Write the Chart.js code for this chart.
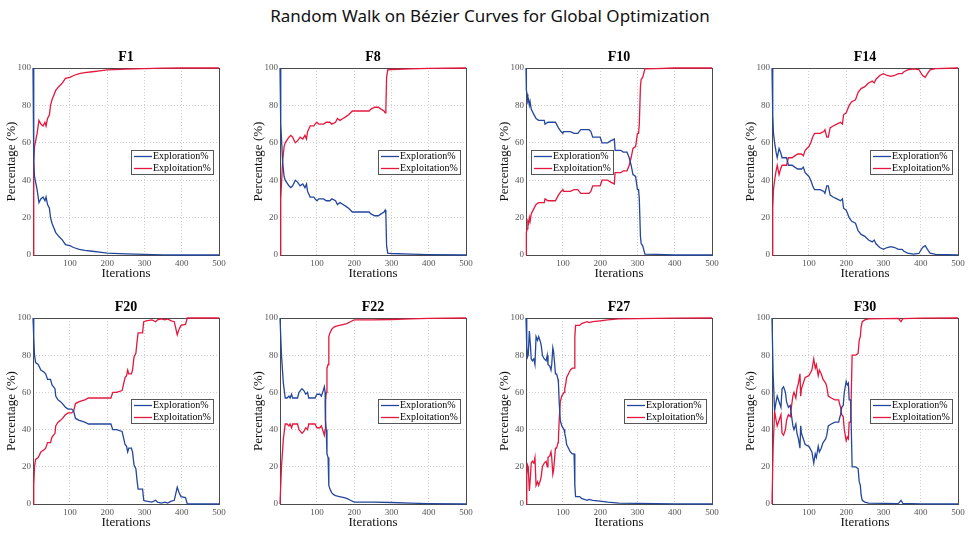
<!DOCTYPE html>
<html>
<head>
<meta charset="utf-8">
<script src="https://cdn.jsdelivr.net/npm/chart.js@4.4.1/dist/chart.umd.min.js"></script>
<style>
  body { margin: 0; width: 970px; height: 533px; background: #fff; position: relative; overflow: hidden; }
  #title { position: absolute; top: 4px; left: 0; width: 980px; text-align: center; font-family: "Noto Sans", sans-serif; font-size: 17px; color: #111; }
  canvas { position: absolute; }
</style>
</head>
<body>
<div id="title">Random Walk on Bézier Curves for Global Optimization</div>
<canvas id="c0" width="246" height="241" style="left:0px;top:45px"></canvas>
<canvas id="c1" width="246" height="241" style="left:247px;top:45px"></canvas>
<canvas id="c2" width="246" height="241" style="left:493px;top:45px"></canvas>
<canvas id="c3" width="246" height="241" style="left:739px;top:45px"></canvas>
<canvas id="c4" width="246" height="240" style="left:0px;top:295px"></canvas>
<canvas id="c5" width="246" height="240" style="left:247px;top:295px"></canvas>
<canvas id="c6" width="246" height="240" style="left:493px;top:295px"></canvas>
<canvas id="c7" width="246" height="240" style="left:739px;top:295px"></canvas>
<script>
const xTicks = [100, 200, 300, 400, 500];
const yTicks = [0, 20, 40, 60, 80, 100];

// F1
const f1Iter = [1, 3, 5, 10, 12, 17, 22, 28, 33, 36, 40, 45, 48, 52, 56, 62, 70, 80, 88, 100, 110, 125, 140, 160, 180, 200, 250, 300, 350, 400, 500];
const f1Explore = [100, 50, 42, 37, 35, 28, 30, 31, 29, 31, 27, 25, 20, 17, 15, 12, 10, 8, 5.5, 5, 4, 3, 2.5, 2, 1.5, 1, 0.6, 0.3, 0.1, 0, 0];
const f1Exploit = [0, 50, 58, 63, 65, 72, 70, 69, 71, 69, 73, 75, 80, 83, 85, 88, 90, 92, 94.5, 95, 96, 97, 97.5, 98, 98.5, 99, 99.4, 99.7, 99.9, 100, 100];

// F8
const f8Iter = [1, 3, 8, 12, 15, 25, 30, 35, 42, 48, 55, 62, 68, 72, 75, 82, 92, 95, 100, 105, 118, 125, 135, 140, 150, 155, 162, 170, 178, 185, 195, 240, 245, 255, 265, 272, 280, 283, 285, 287, 290, 300, 350, 400, 500];
const f8Explore = [100, 70, 50, 42, 40, 37, 36, 37, 40, 39, 37, 38, 36, 38, 34, 31, 31, 30, 29, 30, 30, 29, 29, 30, 29, 27, 28, 27, 26, 25, 23, 23, 22, 21, 21, 22, 23, 24, 22, 5, 1, 0.8, 0.5, 0.2, 0];
const f8Exploit = [0, 30, 50, 58, 60, 63, 64, 63, 60, 61, 63, 62, 64, 62, 66, 69, 69, 70, 71, 70, 70, 71, 71, 70, 71, 73, 72, 73, 74, 75, 77, 77, 78, 79, 79, 78, 77, 76, 78, 95, 99, 99.2, 99.5, 99.8, 100];

// F10
const f10Iter = [1, 2, 4, 6, 8, 10, 12, 15, 20, 28, 35, 50, 52, 60, 80, 88, 95, 100, 102, 120, 130, 140, 148, 170, 175, 180, 200, 205, 220, 228, 238, 240, 255, 262, 272, 278, 283, 288, 295, 300, 303, 305, 308, 310, 314, 320, 350, 400, 500];
const f10Explore = [100, 88, 86, 82, 83, 80, 82, 78, 76, 73, 72, 72, 70, 71, 71, 68, 66, 65, 66, 66, 65, 65, 67, 67, 66, 63, 63, 60, 60, 61, 62, 56, 56, 55, 55, 52, 48, 43, 42, 35, 35, 30, 10, 6, 5, 0.5, 0.3, 0, 0];
const f10Exploit = [0, 12, 14, 18, 17, 20, 18, 22, 24, 27, 28, 28, 30, 29, 29, 32, 34, 35, 34, 34, 35, 35, 33, 33, 34, 37, 37, 40, 40, 39, 38, 44, 44, 45, 45, 48, 52, 57, 58, 65, 65, 70, 90, 94, 95, 99.5, 99.7, 100, 100];

// F14
const f14Iter = [1, 3, 5, 8, 12, 15, 20, 24, 28, 40, 45, 55, 62, 70, 80, 85, 90, 100, 105, 110, 115, 130, 140, 143, 148, 152, 157, 165, 175, 185, 190, 193, 200, 208, 215, 225, 232, 240, 250, 260, 270, 275, 280, 290, 300, 310, 320, 330, 340, 350, 355, 365, 380, 395, 405, 412, 418, 425, 440, 500];
const f14Explore = [100, 75, 65, 60, 55, 52, 57, 55, 52, 52, 48, 48, 47, 46, 46, 47, 44, 42, 40, 37, 35, 35, 34, 33, 37, 37, 32, 31, 30, 29, 30, 25, 24, 20, 18, 17, 13, 11, 10, 8, 7, 8, 6, 4, 3, 4, 4.5, 4, 3, 3, 2, 1, 0.5, 0.8, 4, 5, 3, 1, 0.3, 0];
const f14Exploit = [0, 25, 35, 40, 45, 48, 43, 46, 48, 48, 52, 52, 53, 54, 54, 53, 56, 58, 60, 63, 65, 65, 66, 67, 63, 63, 68, 69, 70, 71, 70, 75, 76, 80, 82, 83, 87, 89, 90, 92, 93, 92, 94, 96, 97, 96, 95.5, 96, 97, 97, 98, 99, 99.5, 99.2, 96, 95, 97, 99, 99.7, 100];

// F20
const f20Iter = [1, 3, 5, 8, 15, 22, 30, 35, 40, 48, 52, 60, 62, 68, 75, 80, 88, 95, 105, 110, 115, 125, 140, 150, 200, 210, 215, 225, 240, 248, 252, 255, 258, 265, 268, 272, 277, 280, 283, 295, 298, 305, 320, 330, 335, 345, 355, 362, 372, 380, 388, 393, 398, 410, 415, 500];
const f20Explore = [100, 90, 80, 76, 75, 72, 71, 70, 67, 67, 64, 62, 58, 56, 55, 54, 52, 51, 51, 50, 46, 45, 44, 43, 43, 43, 40, 40, 39, 32, 31, 28, 30, 30, 28, 21, 19, 13, 8, 8, 2, 1.5, 1, 2, 1, 0.5, 1, 0.5, 1.5, 2, 9, 6, 4, 3.5, 0, 0];
const f20Exploit = [0, 10, 20, 24, 25, 28, 29, 30, 33, 33, 36, 38, 42, 44, 45, 46, 48, 49, 49, 50, 54, 55, 56, 57, 57, 57, 60, 60, 61, 68, 69, 72, 70, 70, 72, 79, 81, 87, 92, 92, 98, 98.5, 99, 98, 99, 99.5, 99, 99.5, 98.5, 98, 91, 94, 96, 96.5, 100, 100];

// F22
const f22Iter = [1, 5, 10, 15, 20, 25, 28, 32, 35, 48, 52, 60, 65, 70, 75, 78, 95, 100, 108, 112, 117, 120, 122, 123, 125, 127, 130, 132, 135, 140, 145, 150, 160, 170, 180, 190, 200, 250, 300, 350, 400, 500];
const f22Explore = [100, 80, 65, 57, 57, 58, 57, 59, 57, 57, 60, 62, 61, 59, 60, 57, 57, 59, 59, 58, 61, 63, 60, 45, 40, 27, 25, 10, 8, 6, 5, 4.5, 4, 3.5, 3, 2, 1, 1, 0.8, 0.5, 0.2, 0];
const f22Exploit = [0, 20, 35, 43, 43, 42, 43, 41, 43, 43, 40, 38, 39, 41, 40, 43, 43, 41, 41, 42, 39, 37, 40, 55, 60, 73, 75, 90, 92, 94, 95, 95.5, 96, 96.5, 97, 98, 99, 99, 99.2, 99.5, 99.8, 100];

// F27
const f27Iter = [1, 3, 5, 7, 10, 13, 15, 18, 22, 25, 28, 32, 35, 40, 42, 45, 50, 55, 58, 60, 65, 68, 70, 73, 75, 78, 80, 83, 87, 88, 90, 93, 97, 103, 105, 108, 110, 115, 120, 125, 130, 132, 134, 145, 150, 165, 170, 180, 200, 220, 250, 300, 400, 500];
const f27Explore = [100, 85, 79, 80, 93, 85, 78, 77, 78, 75, 90, 88, 90, 87, 85, 80, 78, 77, 80, 75, 74, 72, 75, 84, 82, 75, 70, 70, 67, 65, 55, 45, 42, 40, 38, 35, 32, 30, 28, 27, 27, 10, 4, 4, 3, 2, 2.5, 2, 1.5, 1, 0.5, 0.3, 0.1, 0];
const f27Exploit = [0, 15, 21, 20, 7, 15, 22, 23, 22, 25, 10, 12, 10, 13, 15, 20, 22, 23, 20, 25, 26, 28, 25, 16, 18, 25, 30, 30, 33, 35, 45, 55, 58, 60, 62, 65, 68, 70, 72, 73, 73, 90, 96, 96, 97, 98, 97.5, 98, 98.5, 99, 99.5, 99.7, 99.9, 100];

// F30
const f30Iter = [1, 4, 8, 12, 15, 20, 25, 28, 32, 37, 40, 45, 50, 53, 57, 60, 65, 68, 72, 76, 78, 80, 85, 90, 100, 108, 113, 117, 120, 125, 128, 133, 138, 145, 148, 152, 160, 170, 180, 182, 185, 188, 192, 195, 200, 203, 206, 208, 212, 216, 225, 232, 235, 238, 240, 243, 250, 260, 300, 340, 347, 352, 400, 500];
const f30Explore = [100, 70, 50, 55, 58, 55, 52, 62, 63, 60, 55, 52, 53, 48, 42, 40, 43, 38, 35, 30, 42, 38, 35, 32, 31, 28, 22, 27, 25, 31, 28, 30, 33, 35, 37, 42, 43, 44, 44, 46, 48, 52, 53, 60, 66, 64, 65, 56, 56, 20, 20, 19, 12, 10, 5, 2, 1, 0.5, 0.3, 0.2, 2, 0.3, 0.1, 0];
const f30Exploit = [0, 30, 50, 45, 42, 45, 48, 38, 37, 40, 45, 48, 47, 52, 58, 60, 57, 62, 65, 70, 58, 62, 65, 68, 69, 72, 78, 73, 75, 69, 72, 70, 67, 65, 63, 58, 57, 56, 56, 54, 52, 48, 47, 40, 34, 36, 35, 44, 44, 80, 80, 81, 88, 90, 95, 98, 99, 99.5, 99.7, 99.8, 98, 99.7, 99.9, 100];

const panels = [
  { title: 'F1', iter: f1Iter, explore: f1Explore, exploit: f1Exploit, legend: 'right' },
  { title: 'F8', iter: f8Iter, explore: f8Explore, exploit: f8Exploit, legend: 'right' },
  { title: 'F10', iter: f10Iter, explore: f10Explore, exploit: f10Exploit, legend: 'left' },
  { title: 'F14', iter: f14Iter, explore: f14Explore, exploit: f14Exploit, legend: 'right' },
  { title: 'F20', iter: f20Iter, explore: f20Explore, exploit: f20Exploit, legend: 'right' },
  { title: 'F22', iter: f22Iter, explore: f22Explore, exploit: f22Exploit, legend: 'right' },
  { title: 'F27', iter: f27Iter, explore: f27Explore, exploit: f27Exploit, legend: 'right' },
  { title: 'F30', iter: f30Iter, explore: f30Explore, exploit: f30Exploit, legend: 'right' }
];

const blue = '#23479c';
const red = '#e5173d';
const serif = '"Liberation Serif", "Times New Roman", serif';

// matlab-ish axes box under the lines, legend on top of them
const frameLegend = {
  id: 'frameLegend',
  beforeDatasetsDraw(chart) {
    const { ctx, chartArea: a } = chart;
    ctx.save();
    ctx.strokeStyle = '#4a4a4a';
    ctx.lineWidth = 1;
    ctx.strokeRect(Math.round(a.left) + 0.5, Math.round(a.top) + 0.5, Math.round(a.right - a.left), Math.round(a.bottom - a.top));
    ctx.restore();
  },
  afterDraw(chart, args, opts) {
    const { ctx, chartArea: a } = chart;
    ctx.save();
    ctx.font = '10px ' + serif;
    const sets = chart.data.datasets;
    const textW = Math.max(...sets.map(d => ctx.measureText(d.label).width));
    const w = Math.round(22 + textW + 2);
    const h = 24;
    const x = opts.side === 'left' ? Math.round(a.left + 5) : Math.round(a.right - 6 - w);
    const y = Math.round((a.top + a.bottom) / 2 - h / 2);
    ctx.fillStyle = '#fff';
    ctx.fillRect(x, y, w, h);
    ctx.strokeStyle = '#555';
    ctx.lineWidth = 1;
    ctx.strokeRect(x + 0.5, y + 0.5, w, h);
    sets.forEach((d, i) => {
      const ly = y + 6.5 + i * 12;
      ctx.strokeStyle = d.borderColor;
      ctx.lineWidth = 1.3;
      ctx.beginPath();
      ctx.moveTo(x + 3, ly);
      ctx.lineTo(x + 21, ly);
      ctx.stroke();
      ctx.fillStyle = '#000';
      ctx.textBaseline = 'middle';
      ctx.textAlign = 'left';
      ctx.fillText(d.label, x + 22, ly);
    });
    ctx.restore();
  }
};

panels.forEach((p, i) => {
  const ctx = document.getElementById('c' + i).getContext('2d');
  new Chart(ctx, {
    type: 'line',
    data: {
      datasets: [
        {
          label: 'Exploration%',
          data: p.iter.map((v, k) => ({ x: v, y: p.explore[k] })),
          borderColor: blue,
          borderWidth: 1.3,
          pointRadius: 0,
          tension: 0,
          clip: 2
        },
        {
          label: 'Exploitation%',
          data: p.iter.map((v, k) => ({ x: v, y: p.exploit[k] })),
          borderColor: red,
          borderWidth: 1.3,
          pointRadius: 0,
          tension: 0,
          clip: 2
        }
      ]
    },
    options: {
      responsive: false,
      animation: false,
      events: [],
      layout: { padding: { left: 0, right: 27, top: 0, bottom: 0 } },
      plugins: {
        legend: { display: false },
        tooltip: { enabled: false },
        title: {
          display: true,
          text: p.title,
          fullSize: false,
          color: '#000',
          font: { family: serif, size: 14, weight: 'bold', lineHeight: 1 },
          padding: { top: 5, bottom: 4 }
        },
        frameLegend: { side: p.legend }
      },
      scales: {
        x: {
          type: 'linear',
          min: 1,
          max: 500,
          afterBuildTicks: s => { s.ticks = xTicks.map(v => ({ value: v })); },
          afterFit: s => { s.height = 31; },
          grid: { color: '#cfcfcf', lineWidth: 1, drawTicks: false },
          border: { display: false, dash: [1, 2] },
          ticks: { color: '#555', padding: 3, font: { family: serif, size: 9 }, maxRotation: 0 },
          title: { display: true, text: 'Iterations', color: '#111', font: { family: serif, size: 13 }, padding: { top: 0, bottom: 5 } }
        },
        y: {
          min: 0,
          max: 100,
          afterBuildTicks: s => { s.ticks = yTicks.map(v => ({ value: v })); },
          afterFit: s => { s.width = 33; },
          grid: { color: '#cfcfcf', lineWidth: 1, drawTicks: false },
          border: { display: false, dash: [1, 2] },
          ticks: { color: '#555', padding: 2, font: { family: serif, size: 9 } },
          title: { display: true, text: 'Percentage (%)', color: '#111', font: { family: serif, size: 13 }, padding: { top: 4, bottom: 0 } }
        }
      }
    },
    plugins: [frameLegend]
  });
});
</script>
</body>
</html>
